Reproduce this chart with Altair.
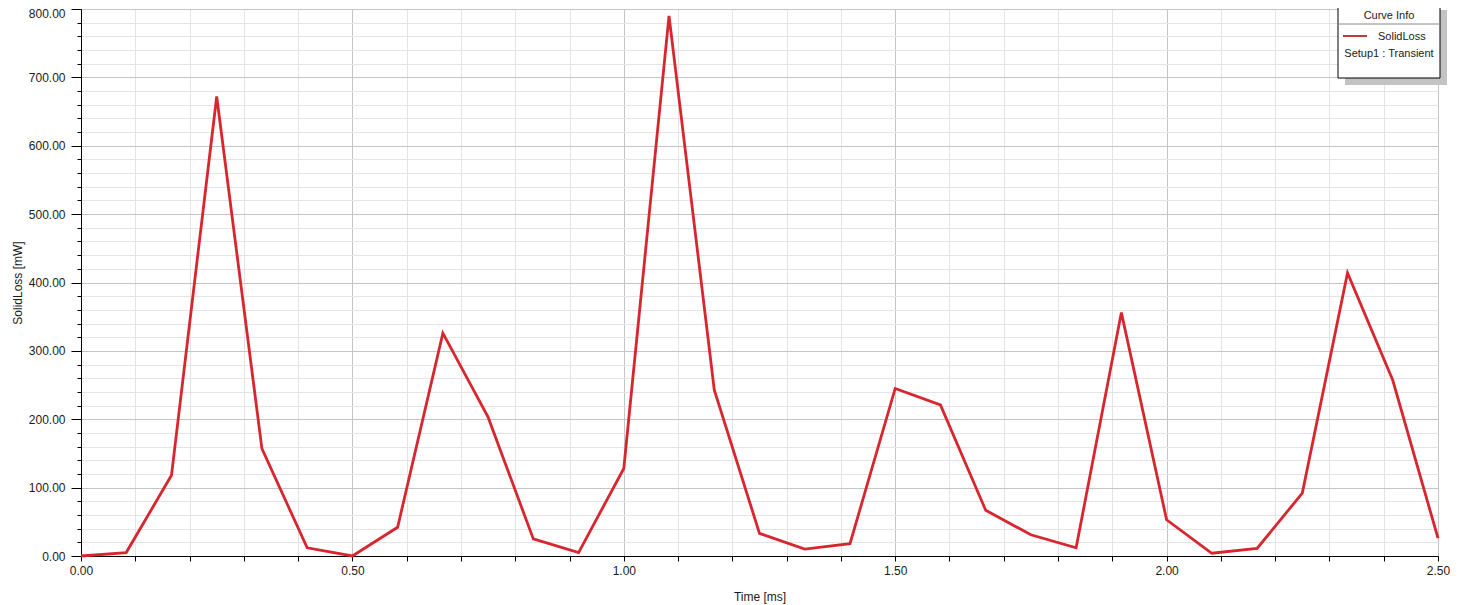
import altair as alt
import pandas as pd

# Data
time_ms = [0.0, 0.0833, 0.1667, 0.25, 0.3333, 0.4167, 0.5, 0.5833, 0.6667, 0.75,
           0.8333, 0.9167, 1.0, 1.0833, 1.1667, 1.25, 1.3333, 1.4167, 1.5, 1.5833,
           1.6667, 1.75, 1.8333, 1.9167, 2.0, 2.0833, 2.1667, 2.25, 2.3333, 2.4167, 2.5]
solid_loss = [0, 5, 118, 672, 157, 12, 0, 42, 326, 203,
              25, 5, 128, 790, 243, 33, 10, 18, 245, 221,
              67, 31, 12, 356, 53, 4, 11, 92, 414, 257, 26]

x_ticks = [round(i * 0.1, 2) for i in range(26)]
y_ticks = [i * 20 for i in range(41)]

legend_title = "Curve Info"
legend_series = "SolidLoss"
legend_setup = "Setup1 : Transient"

W, H = 1357, 547
FONT = "Liberation Sans"
RED = "#d7262e"

df = pd.DataFrame({"t": time_ms, "v": solid_loss})

x_major = "abs(datum.value*2 - round(datum.value*2)) < 1e-6"
y_major = "abs(datum.value/100 - round(datum.value/100)) < 1e-6"

line = alt.Chart(df).mark_line(color=RED, strokeWidth=2.8, clip=False).encode(
    x=alt.X("t:Q", scale=alt.Scale(domain=[0, 2.5], nice=False, zero=False),
            axis=alt.Axis(
                values=x_ticks, title="Time [ms]",
                labelExpr=f"({x_major}) ? format(datum.value, '.2f') : ''",
                gridColor={"condition": {"test": x_major, "value": "#c4c4c4"}, "value": "#e4e4e4"},
                gridWidth=1, tickColor="black", tickSize=5, domainColor="black",
                labelFont=FONT, labelFontSize=12, labelColor="#1a1a1a", labelPadding=4,
                titleFont=FONT, titleFontSize=12, titleFontWeight="normal", titleColor="#1a1a1a",
                titlePadding=15, labelFlush=False, labelOverlap=False)),
    y=alt.Y("v:Q", scale=alt.Scale(domain=[0, 800], nice=False),
            axis=alt.Axis(
                values=y_ticks, title="SolidLoss [mW]",
                labelExpr=f"({y_major}) ? format(datum.value, '.2f') : ''",
                gridColor={"condition": {"test": y_major, "value": "#c4c4c4"}, "value": "#e4e4e4"},
                tickSize={"condition": {"test": y_major, "value": 10}, "value": 4},
                labelOffset={"condition": {"test": "datum.value == 800", "value": 4}, "value": 0},
                gridWidth=1, tickColor="black", domainColor="black",
                labelFont=FONT, labelFontSize=12, labelColor="#1a1a1a", labelPadding=6,
                titleFont=FONT, titleFontSize=12, titleFontWeight="normal", titleColor="#1a1a1a",
                titlePadding=4, labelFlush=False, labelOverlap=False)),
)

one = pd.DataFrame({"a": [0]})

# Legend box (decoration)
lx0, lx1 = 1257, 1359
ly0, ly1 = -6, 69
shadow = alt.Chart(one).mark_rect(color="#c3c3c3", clip=False).encode(
    x=alt.value(lx0 + 7), x2=alt.value(lx1 + 7), y=alt.value(ly0 + 7), y2=alt.value(ly1 + 7))
box = alt.Chart(one).mark_rect(fill="white", stroke="black", strokeWidth=1, clip=False).encode(
    x=alt.value(lx0), x2=alt.value(lx1), y=alt.value(ly0), y2=alt.value(ly1))
sep = alt.Chart(one).mark_rule(color="#888888", strokeWidth=1, clip=False).encode(
    x=alt.value(lx0), x2=alt.value(lx1), y=alt.value(15))
swatch = alt.Chart(one).mark_rule(color="#c0393b", strokeWidth=2, clip=False).encode(
    x=alt.value(1262), x2=alt.value(1286), y=alt.value(27))
t_title = alt.Chart(one).mark_text(text=legend_title, font=FONT, fontSize=11, color="#1a1a1a",
                                   align="center", baseline="middle", clip=False).encode(
    x=alt.value(1308), y=alt.value(7))
t_series = alt.Chart(one).mark_text(text=legend_series, font=FONT, fontSize=11, color="#1a1a1a",
                                    align="left", baseline="middle", clip=False).encode(
    x=alt.value(1297), y=alt.value(28))
t_setup = alt.Chart(one).mark_text(text=legend_setup, font=FONT, fontSize=11, color="#1a1a1a",
                                   align="center", baseline="middle", clip=False).encode(
    x=alt.value(1308), y=alt.value(45))

chart = alt.layer(line, shadow, box, sep, swatch, t_title, t_series, t_setup).properties(
    width=W, height=H,
    autosize=alt.AutoSizeParams(type="none"),
    padding={"left": 73, "top": 1, "right": 12, "bottom": 49},
).configure_view(stroke="black", strokeWidth=1).configure(background="white")

chart.save("out.html", embed_options={"renderer": "svg", "actions": False})
